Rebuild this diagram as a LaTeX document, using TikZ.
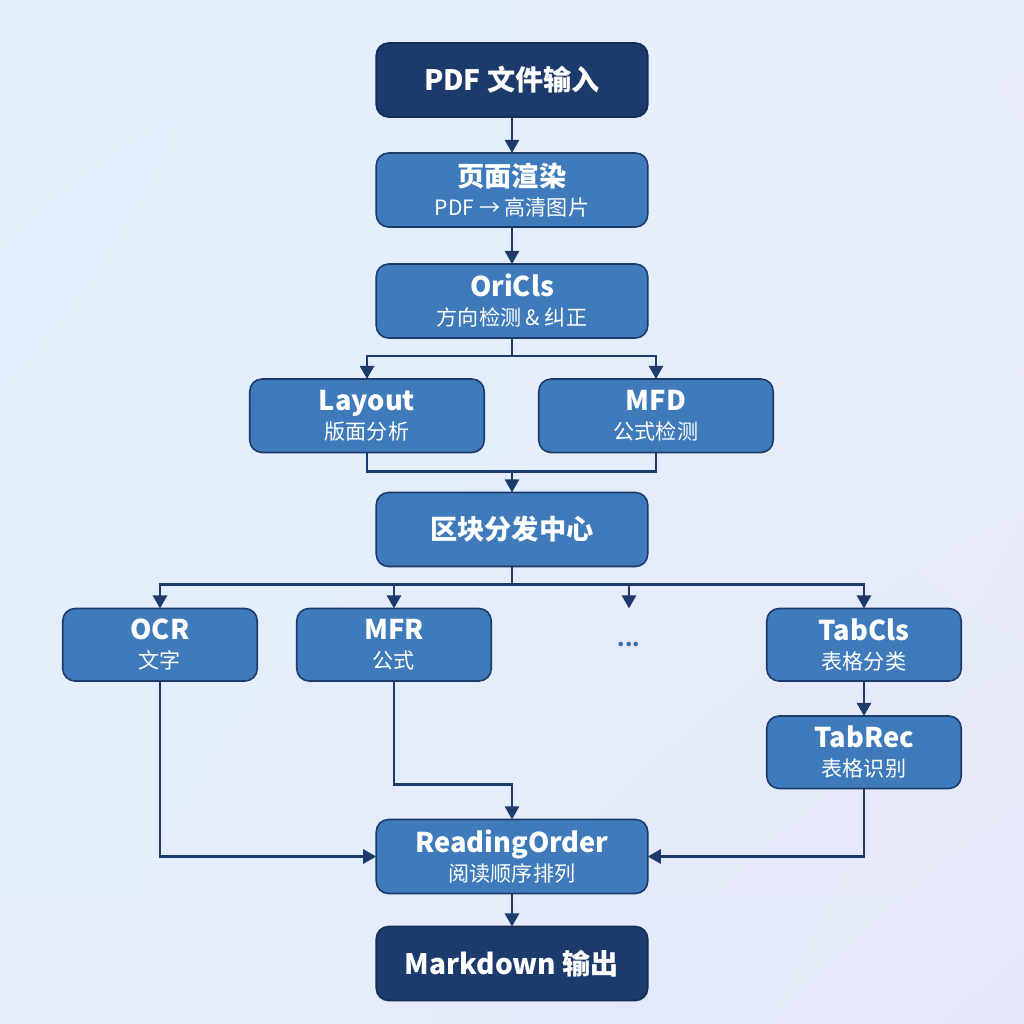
\documentclass[tikz,border=0pt]{standalone}
\usepackage{fontspec}
\setmainfont{Noto Sans CJK SC}
\usepackage{tikz}
\usetikzlibrary{
  arrows.meta,
  positioning,
  calc,
  shadings
}
\usepackage{xcolor}
\definecolor{flownavy}{HTML}{1C3A6B}
\definecolor{flowblue}{HTML}{3F7BBA}
\definecolor{flowdots}{HTML}{3A6AA8}
\definecolor{bgtl}{HTML}{E1EFFB}
\definecolor{bgtr}{HTML}{E8EEF9}
\definecolor{bgbl}{HTML}{E5EDFA}
\definecolor{bgbr}{HTML}{E4E7F8}
\newcommand{\stepdetail}[1]{{\fontsize{12}{15}\selectfont\mdseries #1}}

\begin{document}
\begin{tikzpicture}[
  ioblock/.style={draw=flownavy!80!black, fill=flownavy, rounded corners=7pt,
    line width=0.9pt, text=white, minimum width=5.43cm, minimum height=1.48cm,
    font=\fontsize{16}{19}\selectfont\bfseries, align=center, inner sep=0pt,
    outer sep=0pt},
  stage/.style={draw=flownavy, fill=flowblue, rounded corners=7pt,
    line width=0.9pt, text=white, minimum width=5.43cm, minimum height=1.48cm,
    font=\fontsize{15.5}{18.5}\selectfont\bfseries, align=center, inner sep=0pt,
    outer sep=0pt},
  branch/.style={stage, minimum width=4.69cm, minimum height=1.47cm},
  worker/.style={stage, minimum width=3.89cm, minimum height=1.45cm},
  link/.style={draw=flownavy, line width=1.6pt},
  arrow/.style={link, -{Triangle[length=7.5pt, width=8pt]}}
]

  % background
  \shade[upper left=bgtl, upper right=bgtr, lower left=bgbl, lower right=bgbr]
    (-10.24,1.6) rectangle (10.24,-18.88);

  \node[ioblock] (input) at (0,0) {PDF 文件输入};
  \node[stage, below=0.72cm of input] (render)
    {页面渲染\\[-2pt]\stepdetail{PDF → 高清图片}};
  \node[stage, below=0.74cm of render] (oricls)
    {OriCls\\[-2pt]\stepdetail{方向检测 \& 纠正}};

  \node[branch, below=0.82cm of oricls, xshift=-2.9cm] (layout)
    {Layout\\[-2pt]\stepdetail{版面分析}};
  \node[branch, below=0.82cm of oricls, xshift=2.88cm] (mfd)
    {MFD\\[-2pt]\stepdetail{公式检测}};

  \node[stage, below=0.8cm of layout, xshift=2.9cm] (hub) {区块分发中心};

  \node[worker, below=0.84cm of hub, xshift=-7.04cm] (ocr)
    {OCR\\[-2pt]\stepdetail{文字}};
  \node[worker, below=0.84cm of hub, xshift=-2.36cm] (mfr)
    {MFR\\[-2pt]\stepdetail{公式}};
  \node[minimum width=3.89cm, minimum height=1.45cm, inner sep=0pt,
    outer sep=0pt, text=flowdots, font=\fontsize{12}{14}\selectfont\bfseries,
    below=0.84cm of hub, xshift=2.34cm] (more) {...};
  \node[worker, below=0.84cm of hub, xshift=7.04cm] (tabcls)
    {TabCls\\[-2pt]\stepdetail{表格分类}};
  \node[worker, below=0.7cm of tabcls] (tabrec)
    {TabRec\\[-2pt]\stepdetail{表格识别}};

  \node[stage, below=5.06cm of hub] (order)
    {ReadingOrder\\[-2pt]\stepdetail{阅读顺序排列}};
  \node[ioblock, below=0.66cm of order] (output) {Markdown 输出};

  % main chain
  \draw[arrow] (input) -- (render);
  \draw[arrow] (render) -- (oricls);

  % split to layout / mfd
  \coordinate (split) at ([yshift=-0.36cm]oricls.south);
  \draw[link] (oricls.south) -- (split);
  \draw[arrow] (split) -| (layout.north);
  \draw[arrow] (split) -| (mfd.north);

  % merge to hub
  \coordinate (merge) at ([yshift=0.42cm]hub.north);
  \draw[link] (layout.south) |- (merge) -| (mfd.south);
  \draw[arrow] (merge) -- (hub.north);

  % dispatch bus
  \coordinate (bus) at ([yshift=-0.36cm]hub.south);
  \draw[link] (hub.south) -- (bus);
  \foreach \w in {ocr, mfr, more, tabcls}
    \draw[arrow] (bus) -| (\w.north);
  \draw[arrow] (tabcls) -- (tabrec);

  % collect into reading order
  \draw[arrow] (ocr.south) |- (order.west);
  \draw[arrow] (mfr.south) |- ([yshift=0.7cm]order.north) -- (order.north);
  \draw[arrow] (tabrec.south) |- (order.east);
  \draw[arrow] (order) -- (output);

\end{tikzpicture}
\end{document}
